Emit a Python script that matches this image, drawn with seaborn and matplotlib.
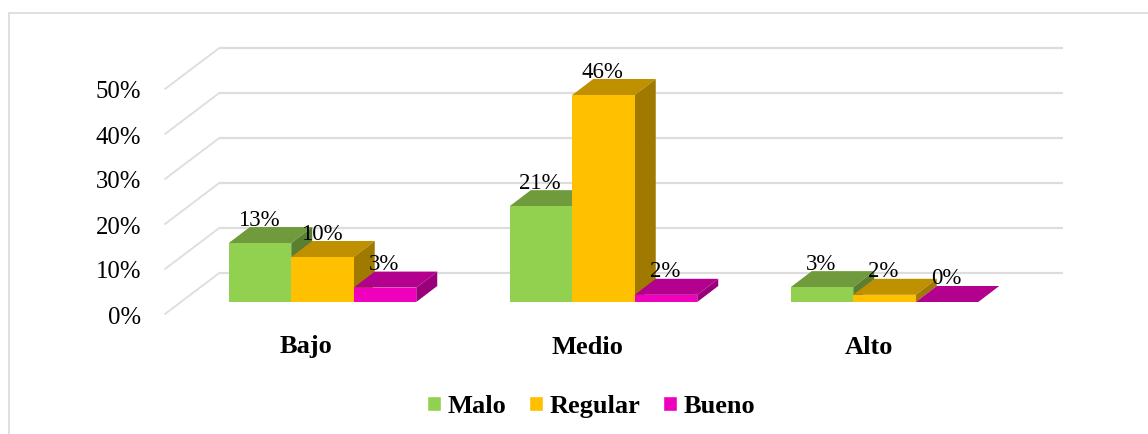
import pandas as pd
import seaborn as sns
import matplotlib.pyplot as plt

categories = ["Bajo", "Medio", "Alto"]
series = ["Malo", "Regular", "Bueno"]
malo = [13.1, 21.3, 3.3]
regular = [10.0, 46.0, 1.6]
bueno = [3.2, 1.6, 0.0]
labels_malo = ["13%", "21%", "3%"]
labels_regular = ["10%", "46%", "2%"]
labels_bueno = ["3%", "2%", "0%"]
y_ticks = [0, 10, 20, 30, 40, 50]

front_colors = ["#92D050", "#FFC000", "#EF00BD"]
top_colors = ["#6F9B3D", "#BF9000", "#B3008E"]
side_colors = ["#5A7F32", "#A07A00", "#99007A"]
grid_color = "#DDDDDD"

sns.set_theme(style="white")
plt.rcParams["font.family"] = ["Liberation Serif", "DejaVu Serif"]

W, H = 1148, 434
PX_CAT = 281.0      # px between categories
PX_PCT = 4.5        # px per percent
X0, Y0 = 322.5, 302.0   # pixel position of first category, bar base


def dx(px):
    return px / PX_CAT


def dy(px):
    return px / PX_PCT


def xp(px):
    return (px - X0) / PX_CAT


def yp(py):
    return (Y0 - py) / PX_PCT


df = pd.DataFrame({
    "cat": categories * 3,
    "serie": [s for s in series for _ in categories],
    "valor": malo + regular + bueno,
})

fig = plt.figure(figsize=(W / 100, H / 100), dpi=100)
ax = fig.add_axes([0, 0, 1, 1])

sns.barplot(data=df, x="cat", y="valor", hue="serie", hue_order=series, order=categories,
            palette=front_colors, saturation=1, width=187.5 / PX_CAT, gap=0, dodge=True,
            errorbar=None, ax=ax)

ax.set_xlim(xp(0), xp(W))
ax.set_ylim(yp(H), yp(0))
ax.axis("off")

# frame of the picture (only top and left are visible)
ax.plot([xp(8.5), xp(8.5), xp(W)], [yp(H), yp(13), yp(13)], color=grid_color, lw=1.3, zorder=1)

# back wall gridlines and the diagonal on the side wall
for t in y_ticks:
    back = yp(273.2) + t
    front = yp(314) + t
    ax.plot([xp(219), xp(1063)], [back, back], color=grid_color, lw=1.6, zorder=1,
            solid_capstyle="butt")
    ax.plot([xp(165), xp(219)], [front, back], color=grid_color, lw=1.3, zorder=1)
    ax.text(xp(141), front - dy(3.5), f"{t}%", ha="right", va="center", fontsize=17.8,
            color="black", zorder=30)

# depth faces for every bar, left to right so the next bar covers the previous side
depth_x, depth_y = dx(21), dy(16)
all_labels = [labels_malo, labels_regular, labels_bueno]
for i, container in enumerate(ax.containers):
    for j, bar in enumerate(container):
        left, w = bar.get_x(), bar.get_width()
        h = bar.get_height()
        z = 3 + 3 * (j * 3 + i)
        bar.set_zorder(z + 2)
        bar.set_linewidth(0)
        ax.fill([left, left + w, left + w + depth_x, left + depth_x],
                [h, h, h + depth_y, h + depth_y], color=top_colors[i], lw=0, zorder=z)
        ax.fill([left + w, left + w + depth_x, left + w + depth_x, left + w],
                [0, depth_y, h + depth_y, h], color=side_colors[i], lw=0, zorder=z + 1)
        ax.text(left + w / 2 - dx(1), h + dy(23), all_labels[i][j], ha="center", va="center",
                fontsize=16.5, color="black", zorder=60)

for j, cat in enumerate(categories):
    ax.text(j - dx(16), yp(347), cat, ha="center", va="center", fontsize=19,
            fontweight="bold", color="black", zorder=60)

ax.legend(loc="center", bbox_to_anchor=(591 / W, 1 - 406.5 / H), ncol=3, frameon=False,
          prop={"weight": "bold", "size": 19}, handlelength=0.53, handleheight=0.53,
          handletextpad=0.25, columnspacing=0.85, borderpad=0, title=None, labelcolor="black")

fig.savefig("out.png", dpi=100)
